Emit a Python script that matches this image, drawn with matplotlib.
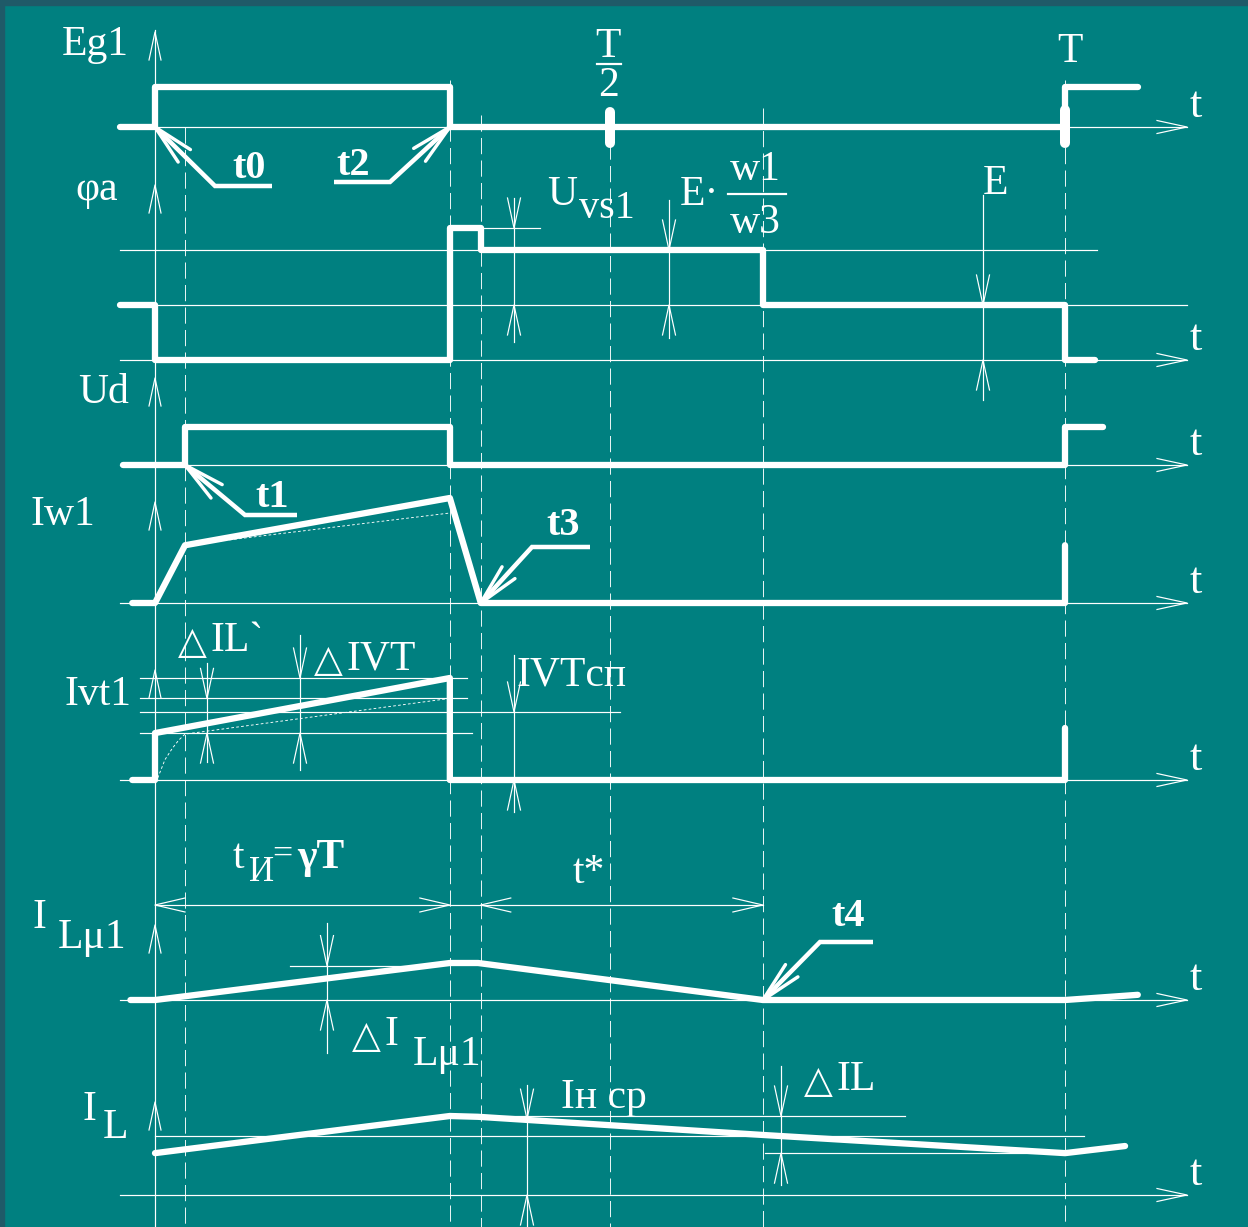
import numpy as np
import matplotlib
matplotlib.use("Agg")
import matplotlib.pyplot as plt
from matplotlib.patches import Rectangle

BG, EDGE, FG = "#008080", "#1f5a68", "white"
SERIF = ["Liberation Serif", "DejaVu Serif"]
SYM = ["DejaVu Sans"]
PT = 0.72                      # points per pixel at dpi 100
THICK, THIN = 6.3 * PT, 1.2 * PT

# key instants, in fractions of the period T
T_NAMES = ["t0", "t1", "t2", "t3", "T/2", "t4", "T"]
T_AT = [0.0, 0.033, 0.324, 0.358, 0.5, 0.668, 1.0]

# waveforms: time in T, value in channel units
EG1_T = [-0.038, 0, 0, 0.324, 0.324, 1.0, 1.0, 1.080]
EG1_V = [0, 0, 1, 1, 0, 0, 1, 1]

PHI_T = [-0.038, 0, 0, 0.324, 0.324, 0.358, 0.358, 0.668, 0.668, 1.0, 1.0, 1.033]
PHI_V = [1, 1, 0, 0, 2.4, 2.4, 2.0, 2.0, 1, 1, 0, 0]
PHI_E, PHI_EW, PHI_US = 1.0, 2.0, 2.4

UD_T = [-0.035, 0.033, 0.033, 0.324, 0.324, 1.0, 1.0, 1.042]
UD_V = [0, 0, 1, 1, 0, 0, 1, 1]

IW1_T = [-0.025, 0, 0.033, 0.324, 0.358, 1.0, 1.0]
IW1_V = [0, 0, 0.55, 1.0, 0, 0, 0.55]
IW1_REF_T = [0.033, 0.324]
IW1_REF_V = [0.55, 0.857]

IVT_T = [-0.025, 0, 0, 0.324, 0.324, 1.0, 1.0]
IVT_V = [0, 0, 0.46, 1.0, 0, 0, 0.51]
IVT_REF_T = [0.003, 0.011, 0.019, 0.026, 0.033, 0.324]
IVT_REF_V = [0.02, 0.20, 0.31, 0.39, 0.45, 0.80]
IVT_LEVELS = [1.0, 0.80, 0.667, 0.46]

ILM_T = [-0.027, 0, 0.324, 0.355, 0.668, 1.0, 1.080]
ILM_V = [0, 0, 1.0, 1.0, 0, 0, 0.14]

IL_T = [0, 0.324, 0.355, 0.668, 1.0, 1.066]
IL_V = [0.53, 1.0, 0.99, 0.76, 0.53, 0.62]
IL_MEAN = 0.747

# layout: pixel column of t0, pixels per period, channel baselines and gains
X0, W = 155, 910
ROWS = {"eg1": (127, 40), "phi": (360, 55), "ud": (465, 38), "iw1": (603, 105),
        "ivt": (780, 102), "ilm": (1000, 37), "il": (1195, 79)}


def row(ch, v):
    base, k = ROWS[ch]
    return base - k * v


def col(t):
    return X0 + t * W


fig = plt.figure(figsize=(12.48, 12.27), dpi=100, facecolor=BG)
ax = fig.add_axes([0, 0, 1, 1])          # waveforms: x in T
ax.set_xlim(-X0 / W, (1248 - X0) / W)
ax.set_ylim(1227, 0)
ax.axis("off")
pa = fig.add_axes([0, 0, 1, 1])          # annotations: pixel grid
pa.set_xlim(0, 1248)
pa.set_ylim(1227, 0)
pa.axis("off")


def thin(xs, ys, **kw):
    pa.plot(xs, ys, color=FG, lw=kw.pop("lw", THIN), **kw)


def vee(x, y, dx, dy, L=30, H=6.5):
    nx, ny = -dy, dx
    bx, by = x - L * dx, y - L * dy
    thin([bx + H * nx, x, bx - H * nx], [by + H * ny, y, by - H * ny])


def dim_v(x, top, bot, y0, y1):
    thin([x, x], [y0, y1])
    vee(x, top, 0, 1)
    vee(x, bot, 0, -1)


def leader(tip, elbow, end):
    pa.plot([tip[0], elbow[0], end[0]], [tip[1], elbow[1], end[1]], color=FG,
            lw=4.5 * PT, solid_capstyle="butt", solid_joinstyle="miter")
    d = np.array(elbow, float) - np.array(tip, float)
    d /= np.hypot(*d)
    for a in (np.radians(12), -np.radians(12)):
        r = np.array([d[0] * np.cos(a) - d[1] * np.sin(a), d[0] * np.sin(a) + d[1] * np.cos(a)])
        p = np.array(tip) + 42 * r
        pa.plot([tip[0], p[0]], [tip[1], p[1]], color=FG, lw=3.4 * PT, solid_capstyle="round")


def label(x, y, s, size=30, weight="normal", ha="left", family=SERIF):
    pa.text(x, y, s, fontsize=size, fontweight=weight, ha=ha, va="baseline",
            color=FG, family=family)


def delta(x, y):
    # open triangle drawn as a glyph, sized like a capital letter
    label(x, y, "△", size=27, family=SYM)


# time grid: solid line at t0, dashed at the other instants
thin([X0, X0], [30, 1227])
dash_top = [127, 80, 115, 143, 108, 80]
for t, top in zip(T_AT[1:], dash_top):
    ax.plot([t, t], [top, 1227], color=FG, lw=0.9 * PT, ls=(0, (18, 7)))

# time axes with open arrowheads and "t"
for ch in ROWS:
    y = row(ch, 0)
    thin([120, 1187], [y, y])
    vee(1187, y, 1, 0)
    label(1190, y - 10, "t", size=32)

# upward value arrows on the t0 line
for tip in [32, 185, 378, 502, 670, 925, 1102]:
    vee(X0, tip, 0, -1, L=28, H=6)

# helper lines
thin([120, 1097], [row("phi", PHI_EW)] * 2)
thin([120, 1187], [row("phi", PHI_E)] * 2)
thin([col(0.358), 540], [row("phi", PHI_US)] * 2)
for lv, x1 in zip(IVT_LEVELS, [467, 467, 620, 472]):
    thin([140, x1], [row("ivt", lv)] * 2)
thin([290, 420], [row("ilm", 0.93)] * 2)
thin([X0, 1084], [row("il", IL_MEAN)] * 2)
thin([470, 905], [row("il", max(IL_V))] * 2)
thin([765, col(1.0)], [row("il", IL_V[4])] * 2)

# waveforms
wave = dict(color=FG, lw=THICK, solid_capstyle="round", solid_joinstyle="round", zorder=5)
for ch, ts, vs in [("eg1", EG1_T, EG1_V), ("phi", PHI_T, PHI_V), ("ud", UD_T, UD_V),
                   ("iw1", IW1_T, IW1_V), ("ivt", IVT_T, IVT_V), ("ilm", ILM_T, ILM_V),
                   ("il", IL_T, IL_V)]:
    ax.plot(ts, [row(ch, v) for v in vs], **wave)
ref = dict(color=FG, lw=0.9 * PT, ls=(0, (3, 2.5)), zorder=4)
ax.plot(IW1_REF_T, [row("iw1", v) for v in IW1_REF_V], **ref)
ax.plot(IVT_REF_T, [row("ivt", v) for v in IVT_REF_V], **ref)

# period marks on the Eg1 axis
for t, y0 in [(0.5, 112), (1.0, 110)]:
    ax.plot([t, t], [y0, 143], color=FG, lw=10 * PT, solid_capstyle="round", zorder=6)

# dimension lines
dim_v(514, row("phi", PHI_US), row("phi", PHI_E), 198, 342)
dim_v(669, row("phi", PHI_EW), row("phi", PHI_E), 200, 338)
dim_v(983, row("phi", PHI_E), row("phi", 0), 195, 400)
dim_v(207, row("ivt", 0.80), row("ivt", 0.46), 663, 762)
dim_v(300, row("ivt", 1.0), row("ivt", 0.46), 635, 770)
dim_v(514, row("ivt", 0.667), row("ivt", 0), 655, 812)
dim_v(327, row("ilm", 0.93), row("ilm", 0), 923, 1053)
dim_v(527, row("il", 0.96), row("il", 0), 1085, 1227)
dim_v(781, row("il", max(IL_V)), row("il", IL_V[4]), 1066, 1185)

# pulse and pause widths
yd = 905
thin([X0, col(0.668)], [yd, yd])
vee(col(0.0), yd, -1, 0, L=30, H=7)
vee(col(0.324), yd, 1, 0, L=30, H=7)
vee(col(0.358), yd, -1, 0, L=30, H=7)
vee(col(0.668), yd, 1, 0, L=30, H=7)

# switching-instant leaders
leader((col(0.0), row("eg1", 0)), (215, 186), (272, 186))
leader((col(0.324), row("eg1", 0)), (390, 182), (334, 182))
leader((col(0.033), row("ud", 0)), (245, 515), (297, 515))
leader((col(0.358), row("iw1", 0)), (532, 547), (590, 547))
leader((col(0.668), row("ilm", 0)), (820, 942), (873, 942))
for (x, y), s in zip([(249, 178), (353, 175), (272, 507), (563, 535), (848, 926)],
                     ["t0", "t2", "t1", "t3", "t4"]):
    label(x, y, s, size=29, weight="bold", ha="center")

# channel names
label(62, 55, "Eg1")
label(75, 200, "φa")
label(78, 403, "Ud")
label(30, 525, "Iw1")
label(65, 705, "Ivt1")
label(33, 928, "I")
label(58, 948, "Lμ1")
label(82, 1120, "I")
label(103, 1138, "L")

# period labels
label(608, 57, "T", ha="center")
thin([597, 621], [64, 64], lw=2.2 * PT)
label(608, 96, "2", ha="center")
label(1070, 62, "T", ha="center")

# levels and increments
label(547, 205, "U")
label(579, 218, "vs1", size=29)
label(680, 205, "E·")
label(755, 180, "w1", ha="center")
thin([728, 786], [194, 194], lw=2.2 * PT)
label(755, 233, "w3", ha="center")
label(983, 194, "E")
delta(178, 653)
label(210, 651, "IL`")
delta(314, 671)
label(346, 669, "IVT")
label(517, 685, "IVTсп")
label(233, 868, "t")
label(249, 881, "И", size=25)
label(272, 864, "=", size=26)
label(297, 868, "γT", weight="bold")
label(573, 883, "t*")
delta(352, 1047)
label(384, 1045, "I")
label(413, 1065, "Lμ1")
label(561, 1108, "Iн ср")
delta(804, 1092)
label(837, 1090, "IL")

# frame edges
fig.add_artist(Rectangle((0, 1 - 5 / 1227), 1, 5 / 1227, transform=fig.transFigure,
                         color=EDGE, zorder=20))
fig.add_artist(Rectangle((0, 0), 4 / 1248, 1, transform=fig.transFigure,
                         color=EDGE, zorder=20))

fig.savefig("out.png", dpi=100, facecolor=BG)
